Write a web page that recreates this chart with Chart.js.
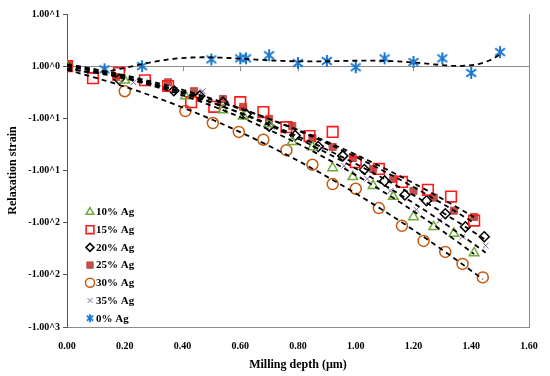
<!DOCTYPE html>
<html>
<head>
<meta charset="utf-8">
<script src="https://cdn.jsdelivr.net/npm/chart.js@4/dist/chart.umd.min.js"></script>
<style>
  html, body { margin: 0; padding: 0; background: #fff; }
  #wrap { width: 550px; height: 376px; }
</style>
</head>
<body>
<div id="wrap"><canvas id="strain-chart" width="550" height="376"></canvas></div>
<script>
// Data (depth in µm, strain in axis units)
const depth10 = [0, 0.20, 0.41, 0.54, 0.61, 0.70, 0.78, 0.85, 0.92, 0.99, 1.06, 1.13, 1.20, 1.27, 1.34, 1.41];
const strain10 = [0, -0.27, -0.57, -0.84, -0.96, -1.11, -1.45, -1.55, -1.95, -2.12, -2.29, -2.50, -2.89, -3.08, -3.21, -3.58];

const depth15 = [0, 0.09, 0.18, 0.27, 0.35, 0.43, 0.51, 0.60, 0.68, 0.76, 0.84, 0.92, 1.00, 1.08, 1.16, 1.25, 1.33, 1.41];
const strain15 = [0, -0.23, -0.13, -0.27, -0.38, -0.69, -0.78, -0.69, -0.88, -1.17, -1.34, -1.26, -1.84, -1.97, -2.22, -2.37, -2.50, -2.96];

const depth20 = [0, 0.18, 0.37, 0.46, 0.54, 0.62, 0.70, 0.79, 0.87, 0.955, 1.03, 1.10, 1.17, 1.245, 1.31, 1.38, 1.445];
const strain20 = [0, -0.25, -0.47, -0.57, -0.69, -0.92, -1.15, -1.33, -1.54, -1.72, -1.98, -2.20, -2.47, -2.58, -2.83, -3.08, -3.27];

const depth25 = [0, 0.17, 0.35, 0.44, 0.54, 0.61, 0.70, 0.78, 0.85, 0.92, 0.99, 1.06, 1.13, 1.20, 1.27, 1.34, 1.41];
const strain25 = [0, -0.21, -0.31, -0.48, -0.63, -0.78, -1.01, -1.15, -1.38, -1.55, -1.76, -1.97, -2.16, -2.39, -2.52, -2.77, -2.89];

const depth30 = [0, 0.20, 0.41, 0.505, 0.595, 0.68, 0.76, 0.85, 0.92, 1.00, 1.08, 1.16, 1.235, 1.31, 1.37, 1.44];
const strain30 = [0, -0.48, -0.86, -1.09, -1.26, -1.41, -1.61, -1.89, -2.26, -2.35, -2.72, -3.06, -3.35, -3.56, -3.79, -4.05];

const depth35 = [0, 0.23, 0.47, 0.54, 0.71, 0.88, 0.96, 1.04, 1.12, 1.21, 1.29, 1.37, 1.45];
const strain35 = [0, -0.31, -0.48, -0.68, -1.17, -1.56, -1.91, -2.16, -2.39, -2.75, -2.96, -3.27, -3.44];

const depth0 = [0, 0.13, 0.26, 0.50, 0.60, 0.62, 0.70, 0.80, 0.90, 1.00, 1.10, 1.20, 1.30, 1.40, 1.50];
const strain0 = [0, -0.06, 0, 0.13, 0.15, 0.15, 0.21, 0.06, 0.10, -0.02, 0.15, 0.08, 0.15, -0.13, 0.27];

// Tick labels as printed on the reference
const xTicks = [0, 0.2, 0.4, 0.6, 0.8, 1.0, 1.2, 1.4, 1.6];
const yTickLabels = ['1.00^1', '1.00^0', '-1.00^1', '-1.00^1', '-1.00^2', '-1.00^2', '-1.00^3'];

const serif = '"Liberation Serif", "Times New Roman", serif';

// Excel style asterisk marker (vertical bar + X), drawn once on a small canvas
function makeAsterisk(size, lw, color) {
  const c = document.createElement('canvas');
  c.width = size;
  c.height = size;
  const g = c.getContext('2d');
  const m = size / 2, r = size / 2 - 1;
  g.strokeStyle = color;
  g.lineWidth = lw;
  g.beginPath();
  g.moveTo(m, m - r);
  g.lineTo(m, m + r);
  const dx = r * 0.82, dy = r * 0.62;
  g.moveTo(m - dx, m - dy);
  g.lineTo(m + dx, m + dy);
  g.moveTo(m + dx, m - dy);
  g.lineTo(m - dx, m + dy);
  g.stroke();
  return c;
}

// Least squares polynomial fit, used for the dashed trend lines
function polyFit(xs, ys, order) {
  const n = order + 1;
  const a = [];
  for (let r = 0; r < n; r++) {
    a.push(new Array(n + 1).fill(0));
  }
  xs.forEach((x, i) => {
    for (let r = 0; r < n; r++) {
      for (let c = 0; c < n; c++) a[r][c] += Math.pow(x, r + c);
      a[r][n] += ys[i] * Math.pow(x, r);
    }
  });
  for (let c = 0; c < n; c++) {
    let piv = c;
    for (let r = c + 1; r < n; r++) if (Math.abs(a[r][c]) > Math.abs(a[piv][c])) piv = r;
    [a[c], a[piv]] = [a[piv], a[c]];
    for (let r = 0; r < n; r++) {
      if (r === c) continue;
      const f = a[r][c] / a[c][c];
      for (let k = c; k <= n; k++) a[r][k] -= f * a[c][k];
    }
  }
  return a.map((row, i) => row[n] / a[i][i]);
}

function trendPoints(xs, ys, order) {
  const coef = polyFit(xs, ys, order);
  const x0 = Math.min(...xs), x1 = Math.max(...xs);
  const pts = [];
  for (let i = 0; i <= 80; i++) {
    const x = x0 + (x1 - x0) * i / 80;
    let y = 0;
    coef.forEach((c, p) => { y += c * Math.pow(x, p); });
    pts.push({ x: x, y: y });
  }
  return pts;
}

function toPoints(xs, ys) {
  return xs.map((x, i) => ({ x: x, y: ys[i] }));
}

const blue = '#1878CF';
const series = [
  { label: '10% Ag', xs: depth10, ys: strain10, style: 'triangle', color: '#72A83E', fill: false, radius: 5.5, legendRadius: 4.5, width: 1.5 },
  { label: '15% Ag', xs: depth15, ys: strain15, style: 'rect', color: '#FF1A1A', fill: false, radius: 7.5, legendRadius: 5.5, width: 1.6 },
  { label: '20% Ag', xs: depth20, ys: strain20, style: 'rectRot', color: '#000000', fill: false, radius: 5, legendRadius: 4, width: 1.5 },
  { label: '25% Ag', xs: depth25, ys: strain25, style: 'rect', color: '#C0504D', fill: true, radius: 5, legendRadius: 4.5, width: 1 },
  { label: '30% Ag', xs: depth30, ys: strain30, style: 'circle', color: '#C55A11', fill: false, radius: 5.5, legendRadius: 4.5, width: 1.5 },
  { label: '35% Ag', xs: depth35, ys: strain35, style: 'crossRot', color: '#8064A2', fill: false, radius: 4, legendRadius: 3.5, width: 1 },
  { label: '0% Ag', xs: depth0, ys: strain0, style: makeAsterisk(14, 2, blue), legendStyle: makeAsterisk(10, 1.8, blue), color: blue, fill: false, radius: 7, legendRadius: 5, width: 1.8 }
];

const datasets = [];
series.forEach(s => {
  datasets.push({
    label: s.label,
    data: toPoints(s.xs, s.ys),
    showLine: false,
    pointStyle: s.style,
    pointRadius: s.radius,
    pointBorderColor: s.color,
    pointBackgroundColor: s.fill ? s.color : 'rgba(0,0,0,0)',
    pointBorderWidth: s.width
  });
});
series.forEach(s => {
  datasets.push({
    label: s.label + ' trend',
    order: -1,
    data: trendPoints(s.xs, s.ys, s.label === '0% Ag' ? 6 : 2),
    showLine: true,
    pointRadius: 0,
    borderColor: '#000',
    borderWidth: 1.8,
    borderDash: [5, 4],
    tension: 0
  });
});

// Legend inside the plot, plus frame line and x tick marks on the zero line
const framePlugin = {
  id: 'frame',
  beforeDatasetsDraw(chart) {
    const ctx = chart.ctx;
    const area = chart.chartArea;
    const x = chart.scales.x, y = chart.scales.y;
    const y0 = y.getPixelForValue(0);
    ctx.save();
    ctx.strokeStyle = '#8c8c8c';
    ctx.lineWidth = 1;
    ctx.beginPath();
    ctx.moveTo(area.right + 0.5, area.top);
    ctx.lineTo(area.right + 0.5, area.bottom);
    xTicks.forEach(v => {
      if (v === 0) return;
      const px = Math.round(x.getPixelForValue(v)) + 0.5;
      ctx.moveTo(px, y0);
      ctx.lineTo(px, y0 + 5);
    });
    ctx.stroke();
    ctx.restore();
  },
  afterDraw(chart) {
    const ctx = chart.ctx;
    const left = 90, top = 212, step = 17.7;
    ctx.save();
    ctx.font = 'bold 11px ' + serif;
    ctx.textBaseline = 'middle';
    series.forEach((s, i) => {
      const yy = top + i * step;
      ctx.strokeStyle = s.color;
      ctx.fillStyle = s.fill ? s.color : 'rgba(0,0,0,0)';
      ctx.lineWidth = s.width;
      Chart.helpers.drawPoint(ctx, { pointStyle: s.legendStyle || s.style, radius: s.legendRadius, rotation: 0, borderWidth: s.width }, left, yy);
      ctx.fillStyle = '#000';
      ctx.fillText(s.label, left + 6, yy + 0.5);
    });
    ctx.restore();
  }
};

const chart = new Chart(document.getElementById('strain-chart').getContext('2d'), {
  type: 'scatter',
  data: { datasets: datasets },
  plugins: [framePlugin],
  options: {
    responsive: false,
    animation: false,
    devicePixelRatio: 1,
    layout: { padding: { top: 14, right: 21, left: 0, bottom: 0 } },
    plugins: {
      legend: { display: false },
      tooltip: { enabled: false }
    },
    scales: {
      x: {
        type: 'linear',
        min: 0,
        max: 1.6,
        afterFit(scale) { scale.height = 49; },
        afterBuildTicks(scale) { scale.ticks = xTicks.map(v => ({ value: v })); },
        grid: { display: false },
        border: { display: true, color: '#8c8c8c', width: 1 },
        ticks: {
          padding: 5,
          color: '#000',
          font: { family: serif, size: 10, weight: 'bold' },
          callback: v => Number(v).toFixed(2)
        },
        title: {
          display: true,
          text: 'Milling depth (µm)',
          color: '#000',
          font: { family: serif, size: 12, weight: 'bold' },
          padding: { top: 3, bottom: 4 }
        }
      },
      y: {
        type: 'linear',
        min: -5,
        max: 1,
        afterFit(scale) { scale.width = 67; },
        ticks: {
          stepSize: 1,
          padding: 3,
          color: '#000',
          font: { family: serif, size: 10, weight: 'bold' },
          callback: v => yTickLabels[1 - Math.round(v)]
        },
        grid: {
          color: c => (c.tick && c.tick.value === 0 ? '#8c8c8c' : 'rgba(0,0,0,0)'),
          tickColor: '#555',
          tickLength: 4,
          lineWidth: 1
        },
        border: { display: true, color: '#555', width: 1 },
        title: {
          display: true,
          text: 'Relaxation strain',
          color: '#000',
          font: { family: serif, size: 12, weight: 'bold' },
          padding: { top: 6, bottom: 4 }
        }
      }
    }
  }
});
</script>
</body>
</html>
